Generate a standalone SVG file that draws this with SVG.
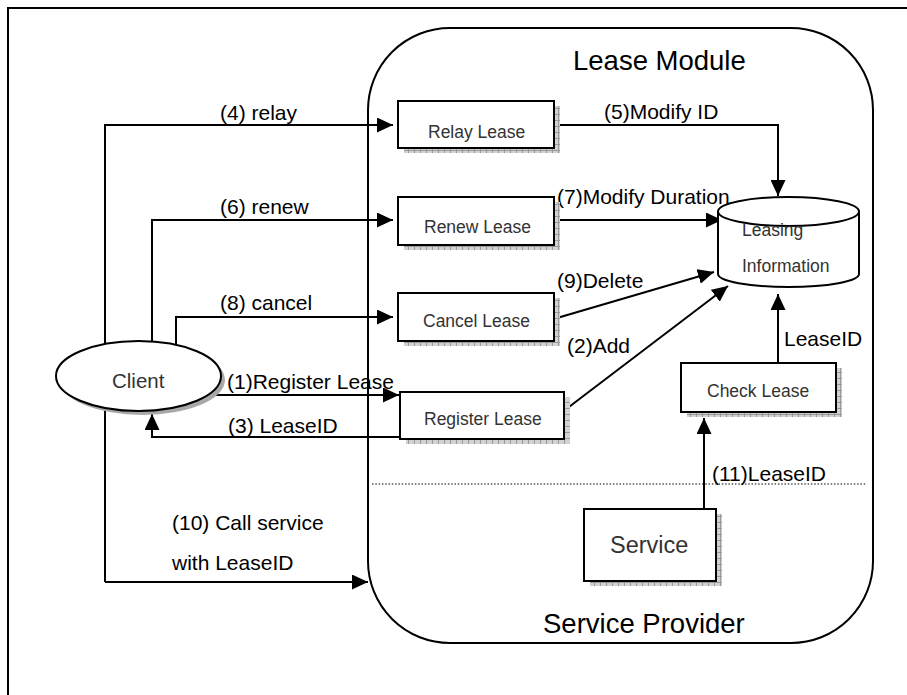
<svg xmlns="http://www.w3.org/2000/svg" width="907" height="695" viewBox="0 0 907 695">
  <defs>
    <style>
      .frame { fill: none; stroke: #000; stroke-width: 2; }
      .box { fill: #fff; stroke: #000; stroke-width: 2; }
      .shadow { fill: url(#hatch); }
      .link { fill: none; stroke: #000; stroke-width: 2; }
      .arrow { marker-end: url(#head); }
      .dots { fill: none; stroke: #000; stroke-width: 1.2; stroke-dasharray: 1.5 1.8; }
      .lbl { font-family: "Liberation Sans", Arial, sans-serif; font-size: 21px; fill: #000; }
      .big { font-family: "Liberation Sans", Arial, sans-serif; font-size: 27.5px; fill: #000; }
      .node { font-family: "Liberation Sans", Arial, sans-serif; font-size: 17.5px; fill: #333; }
    </style>
    <pattern id="hatch" width="6" height="6" patternUnits="userSpaceOnUse">
      <rect width="6" height="6" fill="#d2d2d2"/>
      <path d="M0,0.5 H6 M0.5,0 V6" stroke="#9a9a9a" stroke-width="1"/>
    </pattern>
    <marker id="head" markerUnits="userSpaceOnUse" markerWidth="16" markerHeight="15" refX="16" refY="7.5" orient="auto">
      <path d="M0,0 L16,7.5 L0,15 Z" fill="#000"/>
    </marker>
  </defs>

  <rect width="907" height="695" fill="#fff"/>

  <!-- page frame -->
  <path class="frame" d="M8,695 V8 H907"/>

  <!-- service provider container -->
  <g id="service-provider">
    <rect class="frame" x="368" y="28" width="505" height="615" rx="82" ry="82"/>
    <text class="big" x="573" y="70">Lease Module</text>
    <text class="big" x="543" y="633">Service Provider</text>
    <path class="dots" d="M372,484 H867"/>
  </g>

  <!-- connectors -->
  <g id="connectors">
    <path class="link arrow" d="M105,582 V125 H393"/>
    <path class="link arrow" d="M105,582 H368"/>
    <path class="link arrow" d="M152,345 V220 H393"/>
    <path class="link arrow" d="M176,345 V317 H393"/>
    <path class="link arrow" d="M200,395 H399"/>
    <path class="link arrow" d="M400,437 H152 V414"/>
    <path class="link arrow" d="M554,125 H778 V196"/>
    <path class="link arrow" d="M550,220 H722"/>
    <path class="link arrow" d="M557,318 L714,272"/>
    <path class="link arrow" d="M561,413 L728,286"/>
    <path class="link arrow" d="M778,363 V294"/>
    <path class="link arrow" d="M704,509 V418"/>

    <text class="lbl" x="220" y="120">(4) relay</text>
    <text class="lbl" x="220" y="214">(6) renew</text>
    <text class="lbl" x="220" y="310">(8) cancel</text>
    <text class="lbl" x="227" y="389">(1)Register Lease</text>
    <text class="lbl" x="228" y="433">(3) LeaseID</text>
    <text class="lbl" x="172" y="530">(10) Call service</text>
    <text class="lbl" x="172" y="570">with LeaseID</text>
    <text class="lbl" x="604" y="119">(5)Modify ID</text>
    <text class="lbl" x="557" y="204">(7)Modify Duration</text>
    <text class="lbl" x="557" y="288">(9)Delete</text>
    <text class="lbl" x="567" y="353">(2)Add</text>
    <text class="lbl" x="784" y="346">LeaseID</text>
    <text class="lbl" x="712" y="481">(11)LeaseID</text>
  </g>

  <!-- client -->
  <g id="client">
    <ellipse cx="142.5" cy="380" rx="82.5" ry="35" fill="#a8a8a8"/>
    <ellipse class="box" cx="138.5" cy="376" rx="82.5" ry="35"/>
    <text class="node" x="112" y="388" style="font-size:20.5px">Client</text>
  </g>

  <g id="relay-lease">
    <rect class="shadow" x="404" y="106" width="156" height="47"/>
    <rect class="box" x="398" y="101" width="156" height="47"/>
    <text class="node" x="428" y="138">Relay Lease</text>
  </g>

  <g id="renew-lease">
    <rect class="shadow" x="404" y="202" width="156" height="48"/>
    <rect class="box" x="398" y="197" width="156" height="48"/>
    <text class="node" x="424" y="233">Renew Lease</text>
  </g>

  <g id="cancel-lease">
    <rect class="shadow" x="404" y="298" width="156" height="48"/>
    <rect class="box" x="398" y="293" width="156" height="48"/>
    <text class="node" x="423" y="327">Cancel Lease</text>
  </g>

  <g id="register-lease">
    <rect class="shadow" x="406" y="397" width="164" height="47"/>
    <rect class="box" x="400" y="392" width="164" height="47"/>
    <text class="node" x="424" y="425">Register Lease</text>
  </g>

  <g id="check-lease">
    <rect class="shadow" x="687" y="368" width="155" height="49"/>
    <rect class="box" x="681" y="363" width="155" height="49"/>
    <text class="node" x="707" y="397">Check Lease</text>
  </g>

  <g id="service">
    <rect class="shadow" x="590" y="514" width="132" height="72"/>
    <rect class="box" x="584" y="509" width="132" height="72"/>
    <text class="node" x="610" y="553" style="font-size:23.5px">Service</text>
  </g>

  <!-- leasing information store -->
  <g id="leasing-information">
    <path class="box" d="M718,211.5 V274 A70.5,13 0 0 0 859,274 V211.5"/>
    <ellipse class="box" cx="788.5" cy="211.5" rx="70.5" ry="14.5"/>
    <text class="node" x="742" y="236">Leasing</text>
    <text class="node" x="742" y="272">Information</text>
  </g>
</svg>
